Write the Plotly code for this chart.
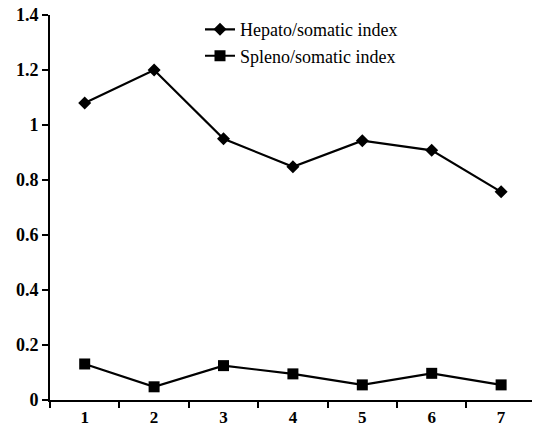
import plotly.graph_objects as go

groups = ["1", "2", "3", "4", "5", "6", "7"]
hepato = [1.08, 1.20, 0.95, 0.848, 0.943, 0.908, 0.757]
spleno = [0.131, 0.048, 0.125, 0.095, 0.055, 0.097, 0.055]
y_ticks = [0, 0.2, 0.4, 0.6, 0.8, 1.0, 1.2, 1.4]
y_labels = ["0", "0.2", "0.4", "0.6", "0.8", "1", "1.2", "1.4"]

fig = go.Figure()
fig.add_trace(go.Scatter(
    x=groups, y=hepato, mode="lines+markers", name="Hepato/somatic index",
    line=dict(color="black", width=2.2),
    marker=dict(symbol="diamond", size=10, color="black"),
    legendgroup="a",
))
fig.add_trace(go.Scatter(
    x=groups, y=spleno, mode="lines+markers", name="Spleno/somatic index",
    line=dict(color="black", width=2.2),
    marker=dict(symbol="square", size=11, color="black"),
    legendgroup="b",
))

ytickfont = dict(family="Liberation Serif", size=18, color="black", weight="bold")
xtickfont = dict(family="Liberation Serif", size=17, color="black", weight="bold")

fig.update_layout(
    width=533, height=429,
    margin=dict(l=50, r=1, t=15, b=29),
    paper_bgcolor="white", plot_bgcolor="white",
    showlegend=True,
    legend=dict(
        x=(200 - 50) / 482, y=1.01, xanchor="left", yanchor="top",
        bgcolor="rgba(0,0,0,0)", borderwidth=0,
        font=dict(family="Liberation Serif", size=18, color="black"),
        tracegroupgap=0, traceorder="grouped",
    ),
    xaxis=dict(
        type="category", categoryorder="array", categoryarray=groups,
        range=[-0.5, 6.445], tickson="boundaries",
        ticks="outside", ticklen=6, tickwidth=2, tickcolor="black",
        showline=True, linecolor="black", linewidth=2,
        showgrid=False, zeroline=False, tickfont=xtickfont,
        ticklabelstandoff=1, automargin=False,
    ),
    yaxis=dict(
        range=[0, 1.4], tickvals=y_ticks, ticktext=y_labels,
        ticks="outside", ticklen=6, tickwidth=2, tickcolor="black",
        showline=True, linecolor="black", linewidth=2,
        showgrid=False, zeroline=False, tickfont=ytickfont,
        automargin=False,
    ),
)

body = fig.to_html(full_html=False, include_plotlyjs=True,
                   config={"displayModeBar": False})
html = (
    "<!DOCTYPE html><html><head><meta charset='utf-8'>"
    "<style>html,body{margin:0;padding:0;overflow:hidden;background:white;}</style>"
    "</head><body>" + body + "</body></html>"
)
with open("out.html", "w", encoding="utf-8") as f:
    f.write(html)
